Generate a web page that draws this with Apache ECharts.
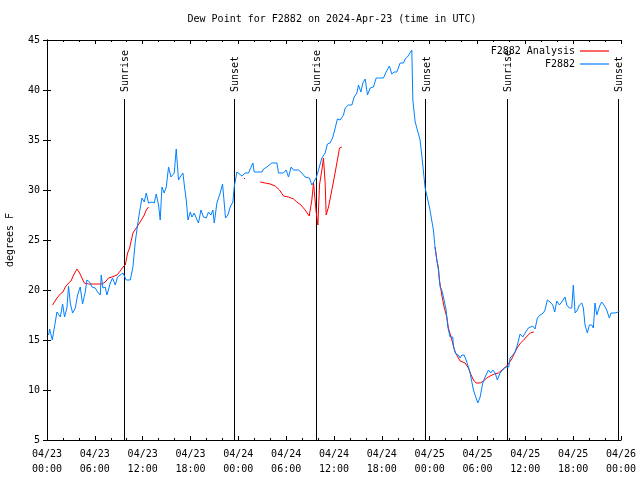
<!DOCTYPE html>
<html>
<head>
<meta charset="utf-8">
<script src="https://cdn.jsdelivr.net/npm/echarts@6/dist/echarts.min.js"></script>
<style>html,body{margin:0;padding:0;background:#fff}#c{width:640px;height:480px}</style>
</head>
<body>
<div id="c"></div>
<script>
// Hours since 2024-04-23 00:00 UTC
const obsHours = [0.2,0.33,0.66,1.25,1.67,1.96,2.2,2.5,2.7,2.92,3.21,3.55,3.84,4.17,4.46,4.8,5.0,5.34,5.64,6.06,6.34,6.68,6.8,7.02,7.3,7.52,7.94,8.22,8.56,8.85,9.53,9.94,10.44,10.78,11.07,11.36,11.61,11.91,12.2,12.45,12.74,13.16,13.45,13.7,13.99,14.2,14.42,14.7,14.96,15.25,15.55,15.8,15.96,16.21,16.5,16.71,17.05,17.25,17.47,17.68,17.97,18.18,18.47,18.72,19.0,19.31,19.63,19.97,20.26,20.56,20.81,20.98,21.31,21.73,22.02,22.23,22.39,22.69,22.98,23.32,23.48,23.82,24.07,24.45,24.86,25.28,25.49,25.83,25.99,26.33,26.96,27.16,27.58,28.21,28.84,29.04,29.66,30.0,30.29,30.63,30.92,31.54,31.97,32.38,32.92,33.22,33.43,33.76,34.05,34.48,34.89,35.18,35.52,35.86,36.15,36.43,36.77,37.19,37.4,37.81,38.24,38.53,38.87,39.07,39.37,39.62,39.91,40.2,40.53,40.95,41.29,41.57,42.2,42.54,42.95,43.25,43.54,43.88,44.3,44.71,44.92,45.21,45.46,45.76,45.89,46.18,46.46,46.8,47.14,47.43,47.97,48.47,48.68,48.9,49.1,49.31,49.52,49.81,50.06,50.28,50.56,50.9,50.98,51.28,51.6,51.82,52.03,52.32,52.57,52.86,53.07,53.49,53.83,54.04,54.33,54.66,54.95,55.37,55.67,55.92,56.21,56.49,56.83,57.25,57.58,57.92,58.09,58.43,58.71,59.0,59.34,59.68,59.97,60.38,60.59,60.93,61.22,61.51,61.85,62.26,62.47,62.76,63.1,63.44,63.69,63.94,64.27,64.57,64.98,65.2,65.52,65.82,66.02,66.24,66.53,66.78,67.08,67.28,67.49,67.78,68.03,68.33,68.53,68.74,68.96,69.16,69.37,69.58,69.87,70.21,70.54,70.75,71.25,71.67,71.79];
const obsDew = [15.5,16.1,15.0,17.8,17.3,18.6,17.3,18.2,20.4,18.7,17.7,18.2,19.5,20.3,18.6,19.8,21.0,20.8,20.3,20.2,19.8,19.5,21.5,20.2,20.3,19.5,20.7,21.2,20.5,21.3,21.7,21.0,21.0,22.3,24.8,26.5,27.8,29.2,28.8,29.7,28.7,28.8,28.7,29.6,28.5,27.0,30.3,29.7,30.3,32.3,31.3,31.5,31.7,34.1,31.0,31.3,31.7,30.3,29.0,27.0,27.8,27.3,27.7,27.2,26.7,28.0,27.3,27.2,27.8,27.5,28.0,26.7,28.7,29.7,30.6,28.7,27.2,27.5,28.3,28.8,30.3,31.8,31.6,31.4,31.7,31.7,32.1,32.7,31.8,31.8,31.8,32.1,32.3,32.7,32.7,31.7,31.7,32.0,31.3,32.3,32.0,32.0,31.7,31.3,31.2,30.5,30.3,31.2,32.0,33.2,33.7,34.6,34.7,35.3,36.2,37.1,37.0,37.5,38.2,38.5,38.5,39.3,39.7,40.5,39.8,40.7,41.1,39.5,40.2,40.3,41.2,41.2,41.2,41.8,42.4,41.6,41.8,41.8,42.7,42.7,43.1,43.3,43.5,44.0,39.0,36.8,36.0,35.0,32.5,30.2,28.3,26.0,24.2,23.0,22.0,20.3,20.0,19.0,18.0,16.3,15.3,15.3,14.3,13.6,13.5,13.2,13.5,13.5,13.0,12.3,11.7,10.0,9.2,8.7,9.3,10.7,11.3,12.0,11.7,12.0,11.7,11.0,11.7,12.1,12.3,12.3,13.2,13.5,13.8,14.5,15.6,15.3,15.7,16.2,16.0,16.4,16.1,17.2,17.5,17.7,18.0,19.0,18.8,18.5,17.8,18.9,18.5,18.8,19.3,18.5,18.2,18.2,20.5,17.7,18.0,18.5,18.7,18.2,16.5,15.7,16.5,16.5,16.2,18.7,17.5,17.3,18.5,18.8,18.5,18.0,17.2,17.7,17.7,17.8,17.9];

const anaHours = [0.7,1.25,1.67,2.0,2.29,2.71,3.01,3.34,3.76,4.09,4.39,4.68,5.22,5.84,6.27,6.9,7.31,7.72,8.15,8.78,9.19,9.53,9.82,10.11,10.36,10.78,11.2,11.61,11.91,12.2,12.45,12.74,18,24.7,24.85,25.5,26.74,27.37,28.0,28.62,29.16,29.66,30.29,30.92,31.34,31.85,32.38,32.89,33.22,33.43,33.64,33.76,33.98,34.18,34.48,34.68,34.8,34.89,35.02,35.31,35.73,36.02,36.36,36.69,36.99,42,48.68,48.9,49.1,49.22,49.52,49.81,50.15,50.35,50.78,51.19,51.6,51.82,52.45,52.86,53.2,53.49,53.83,54.33,54.74,55.17,55.58,56.08,56.62,57.08,57.49,57.78,58.21,58.54,58.97,59.39,59.8,60.22,60.63,61.05];
const anaDew = [18.5,19.2,19.6,19.8,20.3,20.7,20.9,21.5,22.1,21.7,21.2,20.7,20.6,20.6,20.6,20.6,20.8,21.2,21.3,21.5,21.9,22.3,22.5,23.7,24.2,25.7,26.2,26.7,27.1,27.5,28.0,28.3,null,31.2,31.1,null,30.8,30.7,30.6,30.4,30.0,29.4,29.3,29.1,28.8,28.5,28.0,27.4,29.0,30.7,30.8,27.8,26.5,30.5,32.0,33.2,33.2,30.7,27.5,28.3,30.0,31.2,32.7,34.2,34.3,null,24.3,23.0,22.2,21.0,19.5,18.3,17.3,16.2,15.0,13.8,13.2,12.9,12.7,12.2,11.5,11.0,10.7,10.7,10.9,11.2,11.4,11.6,11.7,12.0,12.3,12.5,13.0,13.5,14.2,14.7,15.0,15.4,15.7,15.8];

const sunHours = [9.60, 23.40, 33.68, 47.47, 57.67, 71.59];
const sunLabels = ['Sunrise', 'Sunset', 'Sunrise', 'Sunset', 'Sunrise', 'Sunset'];

const xTickLabels = ['04/23\n00:00','04/23\n06:00','04/23\n12:00','04/23\n18:00','04/24\n00:00','04/24\n06:00','04/24\n12:00','04/24\n18:00','04/25\n00:00','04/25\n06:00','04/25\n12:00','04/25\n18:00','04/26\n00:00'];
const yTicks = [5,10,15,20,25,30,35,40,45];

const FONT = '"DejaVu Sans Mono", monospace';
const obsData = obsHours.map((h, i) => [h, obsDew[i]]);
const anaData = anaHours.map((h, i) => [h, anaDew[i] === null ? '-' : anaDew[i]]);

const chart = echarts.init(document.getElementById('c'), null, {renderer: 'canvas'});
const axLine = {show: true, lineStyle: {color: '#000', width: 1}};
const option = {
  animation: false,
  backgroundColor: '#fff',
  title: {
    text: 'Dew Point for F2882 on 2024-Apr-23 (time in UTC)',
    left: 332, top: 14, textAlign: 'center', padding: 0,
    textStyle: {fontFamily: FONT, fontSize: 10, fontWeight: 'normal', color: '#000'}
  },
  legend: {
    orient: 'vertical', right: 31, top: 46, align: 'right',
    itemWidth: 29, itemHeight: 1.2, itemGap: 3, padding: 0, icon: 'rect', textGap: 6,
    textStyle: {fontFamily: FONT, fontSize: 10, color: '#000'},
    data: ['F2882 Analysis', 'F2882']
  },
  grid: {left: 47, right: 19, top: 40, bottom: 40, outerBoundsMode: 'none'},
  xAxis: [{
    type: 'value', min: 0, max: 72, interval: 6,
    axisLine: axLine,
    axisTick: {show: true, inside: true, length: 4, lineStyle: {color: '#000'}},
    minorTick: {show: true, splitNumber: 3, length: 2, lineStyle: {color: '#000'}},
    splitLine: {show: false},
    axisLabel: {
      margin: 7, fontFamily: FONT, fontSize: 10, color: '#000', lineHeight: 15,
      formatter: v => xTickLabels[Math.round(v / 6)]
    }
  }, {
    type: 'value', min: 0, max: 72, interval: 6, position: 'top',
    axisLine: axLine,
    axisTick: {show: true, inside: true, length: 4, lineStyle: {color: '#000'}},
    minorTick: {show: true, splitNumber: 3, length: 2, lineStyle: {color: '#000'}},
    splitLine: {show: false}, axisLabel: {show: false}
  }],
  yAxis: [{
    type: 'value', min: 5, max: 45, interval: 5,
    name: 'degrees F', nameLocation: 'middle', nameGap: 32,
    nameTextStyle: {fontFamily: FONT, fontSize: 10, color: '#000'},
    axisLine: axLine,
    axisTick: {show: true, inside: true, length: 4, lineStyle: {color: '#000'}},
    splitLine: {show: false},
    axisLabel: {margin: 7, fontFamily: FONT, fontSize: 10, color: '#000',
      formatter: v => String(yTicks[yTicks.indexOf(v)])}
  }, {
    type: 'value', min: 5, max: 45, interval: 5, position: 'right',
    axisLine: axLine,
    axisTick: {show: true, inside: true, length: 4, lineStyle: {color: '#000'}},
    splitLine: {show: false}, axisLabel: {show: false}
  }],
  series: [{
    type: 'custom',
    name: 'sun',
    data: sunHours.map(h => [h]),
    encode: {x: 0},
    silent: true,
    renderItem: function (params, api) {
      const h = api.value(0);
      const p0 = api.coord([h, 5]);
      const p1 = api.coord([h, 39.1]);
      const pt = api.coord([h, 39.8]);
      return {
        type: 'group',
        children: [{
          type: 'line',
          shape: {x1: Math.round(p0[0]) + 0.5, y1: p0[1], x2: Math.round(p1[0]) + 0.5, y2: p1[1]},
          style: {stroke: '#000', lineWidth: 1}
        }, {
          type: 'text',
          x: p0[0] + 1.5, y: pt[1],
          rotation: Math.PI / 2,
          style: {text: sunLabels[params.dataIndex], fill: '#000', font: '10px ' + FONT,
            align: 'left', verticalAlign: 'middle'}
        }]
      };
    }
  }, {
    type: 'line', name: 'F2882 Analysis', data: anaData,
    showSymbol: false, symbol: 'none', connectNulls: false,
    lineStyle: {color: '#ff0000', width: 1}, itemStyle: {color: '#ff0000'}
  }, {
    type: 'line', name: 'F2882', data: obsData,
    showSymbol: false, symbol: 'none',
    lineStyle: {color: '#0080ff', width: 1}, itemStyle: {color: '#0080ff'}
  }]
};
chart.setOption(option);
</script>
</body>
</html>
